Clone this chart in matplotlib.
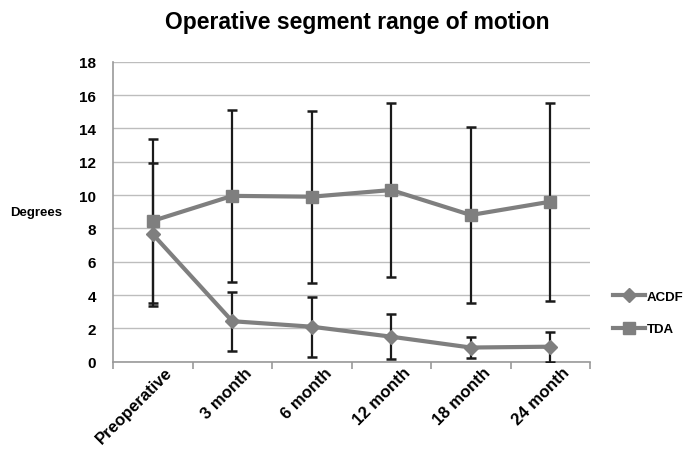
import numpy as np
import matplotlib
matplotlib.use("Agg")
import matplotlib.pyplot as plt
import matplotlib.transforms as mtransforms
from matplotlib.ticker import FixedLocator

categories = ["Preoperative", "3 month", "6 month", "12 month", "18 month", "24 month"]
acdf_mean = [7.65, 2.43, 2.1, 1.5, 0.85, 0.9]
acdf_err = [4.3, 1.77, 1.8, 1.35, 0.62, 0.9]
tda_mean = [8.45, 9.95, 9.9, 10.3, 8.8, 9.6]
tda_err = [4.9, 5.15, 5.15, 5.2, 5.3, 5.95]

plt.rcParams["font.family"] = ["Liberation Sans", "DejaVu Sans"]

fig = plt.figure(figsize=(6.91, 4.52), dpi=100)
ax = fig.add_axes([113 / 691, 1 - 362.7 / 452, (590 - 113) / 691, 300 / 452])

x = np.arange(len(categories))
grey = "#7f7f7f"
for mean, err, mk, ms, lab in [(acdf_mean, acdf_err, "D", 7, "ACDF"),
                               (tda_mean, tda_err, "s", 9, "TDA")]:
    ax.errorbar(x, mean, yerr=err, fmt="none", ecolor="#1a1a1a",
                elinewidth=1.6, capsize=3.5, capthick=1.8, zorder=3)
    ax.plot(x, mean, color=grey, lw=3, marker=mk, ms=ms, mfc=grey,
            mec=grey, label=lab, zorder=4)

ax.set_xlim(-0.5, len(categories) - 0.5)
ax.set_ylim(0, 18)
ax.set_yticks(np.arange(0, 19, 2))
ax.grid(axis="y", color="#bdbdbd", lw=1)
ax.set_axisbelow(True)

ax.set_xticks(x)
ax.set_xticklabels(categories, rotation=45, ha="right", va="top",
                   rotation_mode="anchor", fontsize=12, fontweight="bold")
ax.tick_params(axis="x", which="major", length=0, pad=2)
shift = mtransforms.ScaledTranslation(12 / 100, 0, fig.dpi_scale_trans)
for t in ax.get_xticklabels():
    t.set_transform(t.get_transform() + shift)
ax.xaxis.set_minor_locator(FixedLocator(np.arange(-0.5, len(categories), 1)))
ax.tick_params(axis="x", which="minor", length=5, width=1.2, color="#999999")
ax.tick_params(axis="y", length=0, pad=12, labelsize=11)
for t in ax.get_yticklabels():
    t.set_fontweight("bold")

for s in ["top", "right"]:
    ax.spines[s].set_visible(False)
for s in ["left", "bottom"]:
    ax.spines[s].set_color("#999999")
    ax.spines[s].set_linewidth(1.2)

fig.text(10 / 691, 1 - 213 / 452, "Degrees", fontsize=9.5, fontweight="bold",
         va="center", ha="left")
fig.text(357 / 691, 1 - 22 / 452, "Operative segment range of motion",
         fontsize=16.5, fontweight="bold", ha="center", va="center")

fig.legend(loc="center left", bbox_to_anchor=(613 / 691, 1 - 314 / 452),
           frameon=False, borderpad=0, borderaxespad=0, handlelength=2.4,
           labelspacing=1.5, handletextpad=0.15,
           prop={"weight": "bold", "size": 9.5})

fig.savefig("out.png", dpi=100)
